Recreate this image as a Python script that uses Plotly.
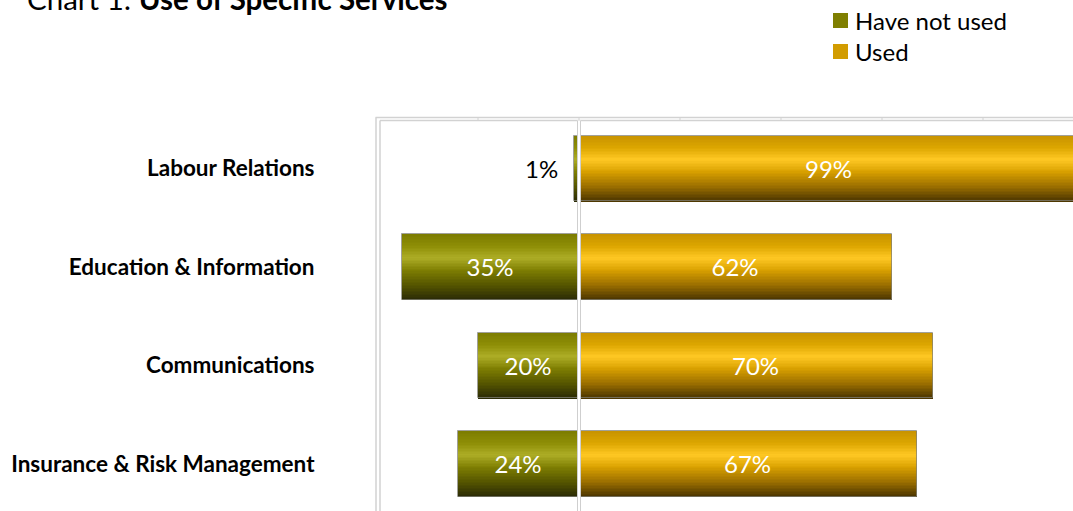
import plotly.graph_objects as go

# ---- data -------------------------------------------------------------
categories = [
    "Labour Relations",
    "Education & Information",
    "Communications",
    "Insurance & Risk Management",
]
have_not_used = [1, 35, 20, 24]
used = [99, 62, 70, 67]

series_names = ["Have not used", "Used"]
legend_colors = ["#7f7f00", "#d29c00"]

# ---- styling ----------------------------------------------------------
W, H = 1073, 511
ML, MT = 377, 117                 # plot area origin in pixels
PW, PH = W - ML, H - MT           # plot area size
PX_PER_PCT = 5.05
X_MIN = -40
X_MAX = X_MIN + PW / PX_PER_PCT
Y_RANGE = [3.477, -0.523]         # category index range, first category on top

FONT = "Lato"
BAR_H = 0.665
N_STRIPES = 44

# top -> bottom colour ramps that give the bars a lit, rounded look
green_ramp = [(0.0, "#7c7c00"), (0.18, "#8e8e06"), (0.36, "#adad26"),
              (0.55, "#7e7e02"), (0.78, "#555500"), (1.0, "#2a2a06")]
gold_ramp = [(0.0, "#c89300"), (0.18, "#dca600"), (0.36, "#ffc824"),
             (0.55, "#d9a100"), (0.78, "#9a6e00"), (1.0, "#4a3400")]


def hex_rgb(h):
    h = h.lstrip("#")
    return tuple(int(h[i:i + 2], 16) for i in (0, 2, 4))


def ramp_color(ramp, t):
    for (t0, c0), (t1, c1) in zip(ramp, ramp[1:]):
        if t0 <= t <= t1:
            f = (t - t0) / (t1 - t0) if t1 > t0 else 0
            a, b = hex_rgb(c0), hex_rgb(c1)
            r, g, bl = (round(a[i] + (b[i] - a[i]) * f) for i in range(3))
            return f"rgb({r},{g},{bl})"
    return ramp[-1][1]


def px_x(px):
    return (px - ML) / PW


def px_y(py):
    return (H - py) / PH


fig = go.Figure()

series = [
    ([-v for v in have_not_used], have_not_used, green_ramp),
    (used, used, gold_ramp),
]

for (xvals, raw, ramp) in series:
    step = BAR_H / N_STRIPES
    for k in range(N_STRIPES):
        t = (k + 0.5) / N_STRIPES
        fig.add_trace(go.Bar(
            x=xvals, y=categories, orientation="h",
            width=step * 1.35, offset=-BAR_H / 2 + k * step,
            marker=dict(color=ramp_color(ramp, t), line=dict(width=0)),
            showlegend=False, hoverinfo="skip",
        ))
    # thin outline plus the value label
    fig.add_trace(go.Bar(
        x=xvals, y=categories, orientation="h",
        width=BAR_H, offset=-BAR_H / 2,
        marker=dict(color="rgba(0,0,0,0)",
                    line=dict(color="rgba(130,130,120,0.75)", width=1)),
        text=[f"{v}%" if v >= 5 else "" for v in raw],
        textposition="inside", insidetextanchor="middle",
        textfont=dict(family=FONT, size=24, color="white"),
        constraintext="none", cliponaxis=True,
        showlegend=False, hoverinfo="skip",
    ))

# labels for bars too thin to hold their value
annotations = []
for cat, v in zip(categories, have_not_used):
    if v < 5:
        annotations.append(dict(
            x=-v - 6.5, y=cat, xref="x", yref="y", text=f"{v}%",
            showarrow=False, font=dict(family=FONT, size=24, color="black"),
        ))

# chart title (sits partly above the page edge)
annotations.append(dict(
    xref="paper", yref="paper", x=px_x(25), y=px_y(18),
    xanchor="left", yanchor="bottom", showarrow=False,
    text="Chart 1: <b>Use of Specific Services</b>",
    font=dict(family=FONT, size=29.5, color="black"),
))

line_col = "#d2d2d2"
shapes = [
    # wall edges: double line along the top and the left
    dict(type="line", xref="paper", yref="paper", x0=px_x(375.5), x1=1.02,
         y0=px_y(117.5), y1=px_y(117.5), line=dict(color=line_col, width=1.5)),
    dict(type="line", xref="paper", yref="paper", x0=px_x(380), x1=1.02,
         y0=px_y(120.5), y1=px_y(120.5), line=dict(color=line_col, width=1.5)),
    dict(type="line", xref="paper", yref="paper", x0=px_x(376), x1=px_x(376),
         y0=px_y(117.5), y1=-0.02, line=dict(color=line_col, width=1.5)),
    dict(type="line", xref="paper", yref="paper", x0=px_x(380), x1=px_x(380),
         y0=px_y(120.5), y1=-0.02, line=dict(color=line_col, width=1.5)),
]
# short gridline marks on the top edge
for g in range(-20, 100, 20):
    shapes.append(dict(type="line", xref="x", yref="paper", x0=g, x1=g,
                       y0=px_y(117), y1=px_y(121),
                       line=dict(color=line_col, width=1)))
# zero divider between the two series
shapes.append(dict(type="rect", xref="x", yref="paper", xsizemode="pixel",
                   xanchor=0, x0=-2, x1=2, y0=-0.02, y1=px_y(120.5),
                   fillcolor="white", line=dict(width=0), layer="above"))
for dx in (-1.5, 1.5):
    shapes.append(dict(type="line", xref="x", yref="paper", xsizemode="pixel",
                       xanchor=0, x0=dx, x1=dx, y0=-0.02, y1=px_y(120.5),
                       line=dict(color="#cfcfcf", width=1), layer="above"))

# legend: colour key squares with their series names
LEG_X, LEG_Y0, LEG_DY, SQ = 833, 20.5, 31, 15
for i, (name, col) in enumerate(zip(series_names, legend_colors)):
    cy = LEG_Y0 + i * LEG_DY
    shapes.append(dict(type="rect", xref="paper", yref="paper",
                       x0=px_x(LEG_X), x1=px_x(LEG_X + SQ),
                       y0=px_y(cy + SQ / 2), y1=px_y(cy - SQ / 2),
                       fillcolor=col, line=dict(width=0)))
    annotations.append(dict(
        xref="paper", yref="paper", x=px_x(LEG_X + SQ + 5), y=px_y(cy),
        xanchor="left", yanchor="middle", showarrow=False, text=name,
        font=dict(family=FONT, size=24, color="black"),
    ))

fig.update_layout(
    width=W, height=H,
    margin=dict(l=ML, r=0, t=MT, b=0, pad=0, autoexpand=False),
    paper_bgcolor="white", plot_bgcolor="white",
    barmode="overlay", bargap=0, showlegend=False,
    font=dict(family=FONT, color="black"),
    xaxis=dict(range=[X_MIN, X_MAX], showgrid=False, zeroline=False,
               showticklabels=False, ticks="", showline=False, fixedrange=True),
    yaxis=dict(range=Y_RANGE, type="category", categoryorder="array",
               categoryarray=categories, showgrid=False, zeroline=False,
               showline=False, ticks="outside", ticklen=57,
               tickcolor="rgba(0,0,0,0)", automargin=False,
               tickfont=dict(family=FONT, size=22.5, weight="bold", color="black"),
               fixedrange=True),
    annotations=annotations,
    shapes=shapes,
)

fig.write_html("out.html")
